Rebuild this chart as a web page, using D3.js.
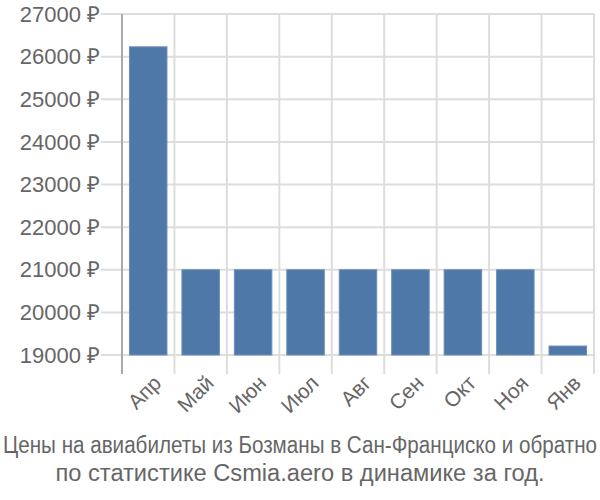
<!DOCTYPE html>
<html><head><meta charset="utf-8">
<script src="https://cdn.jsdelivr.net/npm/d3@7"></script>
<style>body{margin:0;background:#fff}svg{display:block}</style>
</head><body>
<script>
const categories = ["Апр","Май","Июн","Июл","Авг","Сен","Окт","Ноя","Янв"];
const values = [26230, 21000, 21000, 21000, 21000, 21000, 21000, 21000, 19210];
const yTicks = [19000,20000,21000,22000,23000,24000,25000,26000,27000];
const titleLines = ["Цены на авиабилеты из Бозманы в Сан-Франциско и обратно","по статистике Csmia.aero в динамике за год."];

const W=600,H=500;
const svg=d3.select("body").append("svg").attr("width",W).attr("height",H);
const x=d3.scaleBand().domain(categories).range([122,594]).paddingInner(0.285).paddingOuter(0.1425);
const y=d3.scaleLinear().domain([19000,27000]).range([355,14]);
const step=x.step();
const font="'Liberation Sans', Arial, sans-serif";

// horizontal grid
svg.append("g").selectAll("line").data(yTicks).join("line")
  .attr("x1",101).attr("x2",594).attr("y1",d=>y(d)).attr("y2",d=>y(d))
  .attr("stroke","#dddddd").attr("stroke-width",2);
// vertical grid at band boundaries
const bounds=categories.map((c,i)=>122+i*step).concat([594]);
svg.append("g").selectAll("line").data(bounds.slice(1)).join("line")
  .attr("x1",d=>d).attr("x2",d=>d).attr("y1",14).attr("y2",374)
  .attr("stroke","#dddddd").attr("stroke-width",2);
// bars
svg.append("g").selectAll("rect").data(values).join("rect")
  .attr("x",(d,i)=>x(categories[i])).attr("width",x.bandwidth())
  .attr("y",d=>y(d)).attr("height",d=>y(19000)-y(d))
  .attr("fill","#4e78a7").attr("stroke","#6d8fb8").attr("stroke-width",1);
// axis line
svg.append("line").attr("x1",122).attr("x2",122).attr("y1",14).attr("y2",374)
  .attr("stroke","#aaaaaa").attr("stroke-width",2);
// y labels
svg.append("g").selectAll("text").data(yTicks).join("text")
  .attr("x",100).attr("y",d=>y(d)).attr("dy","0.35em").attr("text-anchor","end")
  .attr("font-family",font).attr("font-size",22).attr("fill","#666")
  .text(d=>d+" ₽");
// x labels
svg.append("g").selectAll("text").data(categories).join("text")
  .attr("transform",d=>`translate(${x(d)+x.bandwidth()/2+4},${374}) rotate(-45)`)
  .attr("dy","0.7em").attr("text-anchor","end")
  .attr("font-family",font).attr("font-size",21).attr("fill","#666")
  .text(d=>d);
// title
const tt=svg.append("g").selectAll("text").data(titleLines).join("text")
  .attr("x",300).attr("y",(d,i)=>453+i*28).attr("text-anchor","middle")
  .attr("font-family",font).attr("font-size",23.5).attr("fill","#666")
  .attr("lengthAdjust","spacingAndGlyphs")
  .attr("textLength",(d,i)=>i===0?594:489)
  .text(d=>d);
</script>
</body></html>
